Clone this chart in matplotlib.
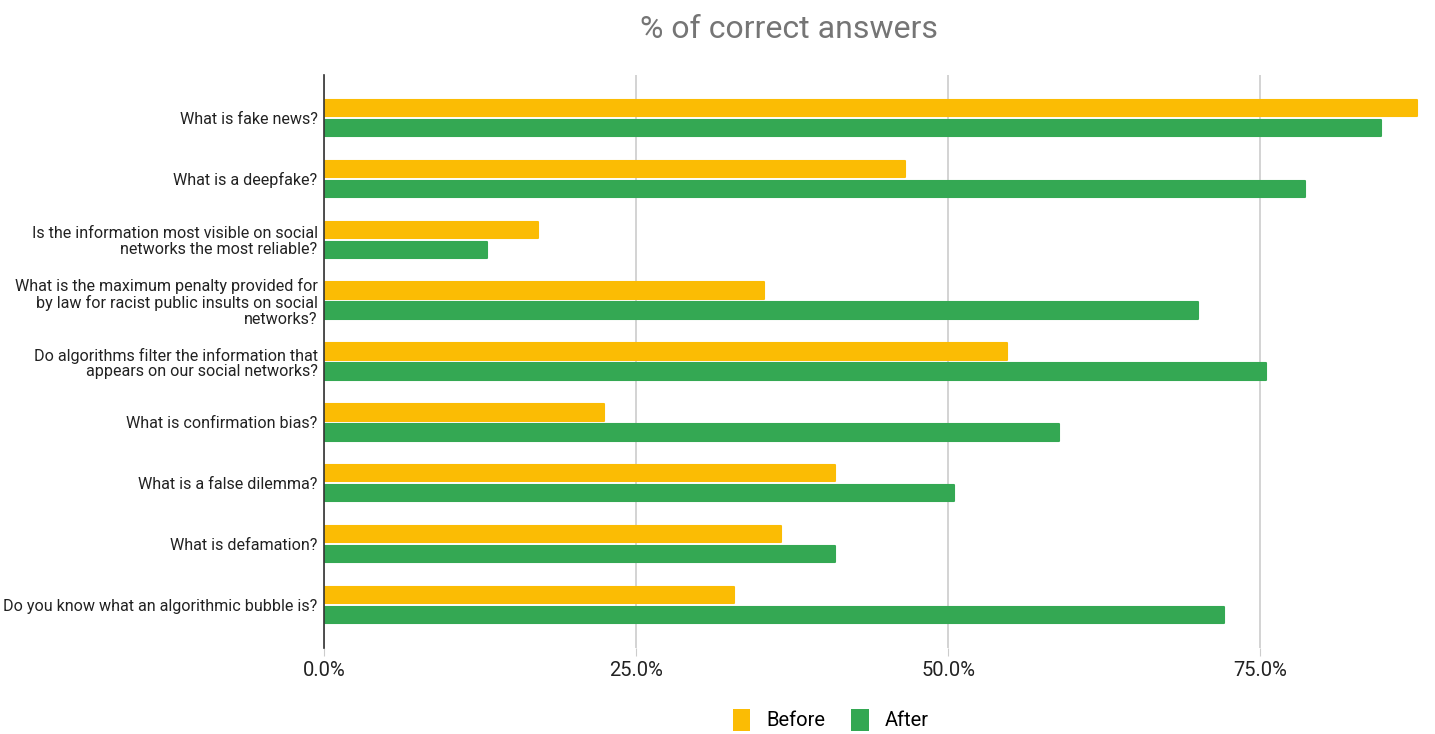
import numpy as np
import matplotlib.pyplot as plt
from matplotlib.ticker import PercentFormatter
from matplotlib.patches import Patch

plt.rcParams['font.family'] = ['Roboto', 'DejaVu Sans']

questions = [
    "What is fake news?",
    "What is a deepfake?",
    "Is the information most visible on social\nnetworks the most reliable?",
    "What is the maximum penalty provided for\nby law for racist public insults on social\nnetworks?",
    "Do algorithms filter the information that\nappears on our social networks?",
    "What is confirmation bias?",
    "What is a false dilemma?",
    "What is defamation?",
    "Do you know what an algorithmic bubble is?",
]
before = [0.876, 0.465, 0.171, 0.352, 0.547, 0.224, 0.409, 0.366, 0.328]
after = [0.847, 0.786, 0.130, 0.700, 0.755, 0.589, 0.505, 0.409, 0.721]
ticks = [0, 0.25, 0.5, 0.75]

before_color = "#FBBC04"
after_color = "#34A853"

fig = plt.figure(figsize=(14.35, 7.34), dpi=100)
ax = fig.add_axes([0.2261, 0.117, 0.7676, 0.781])

y = np.arange(len(questions))
h = 0.27
off = 0.165
ax.barh(y - off, before, height=h, color=before_color, edgecolor=before_color,
        linewidth=1.5, joinstyle="round", zorder=3, label="Before")
ax.barh(y + off, after, height=h, color=after_color, edgecolor=after_color,
        linewidth=1.5, joinstyle="round", zorder=3, label="After")

ax.set_xlim(0, 0.883)
ax.set_ylim(len(questions) - 1 + 0.71, -0.71)
ax.set_yticks(y)
ax.set_yticklabels(questions, fontsize=11.6, color="#222222", linespacing=1.05)
ax.tick_params(axis="y", length=0, pad=5)

ax.set_xticks(ticks)
ax.xaxis.set_major_formatter(PercentFormatter(1.0, decimals=1))
ax.tick_params(axis="x", length=6, color="#cccccc", labelsize=14.5,
               labelcolor="#222222", pad=3)
ax.grid(axis="x", color="#cccccc", linewidth=1.2, zorder=0)

for side in ["top", "right", "bottom"]:
    ax.spines[side].set_visible(False)
ax.spines["left"].set_color("#333333")
ax.spines["left"].set_linewidth(1.2)
ax.spines["left"].set_zorder(4)

fig.suptitle("% of correct answers", x=0.55, y=0.98, fontsize=23,
             color="#757575")

handles = [Patch(facecolor=before_color, label="Before"),
           Patch(facecolor=after_color, label="After")]
fig.legend(handles=handles, loc="lower center", bbox_to_anchor=(0.579, -0.02),
           ncol=2, frameon=False, fontsize=14.5, handlelength=0.85,
           handleheight=1.3, columnspacing=1.3, handletextpad=0.8)

fig.savefig("out.png", dpi=100)
